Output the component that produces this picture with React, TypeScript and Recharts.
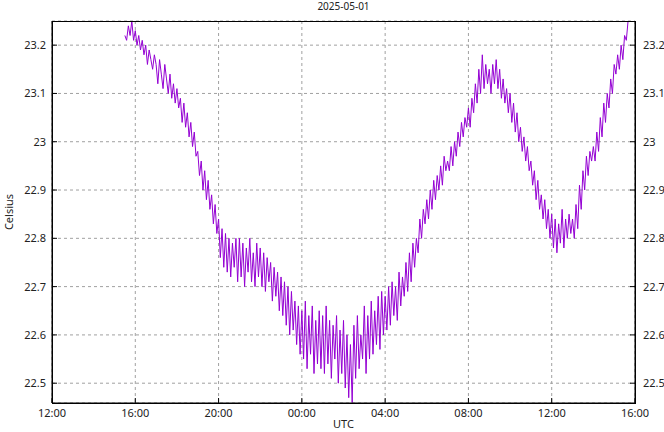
import React from "react";
import { LineChart, Line, XAxis, YAxis, CartesianGrid } from "recharts";

// temperature readings, 5 min apart, starting 15:30 on 2025-05-01 (UTC)
const startHour = 15.5;
const stepMinutes = 5;

const firstAfternoon = [
  23.22, 23.21, 23.24, 23.22, 23.25, 23.21,
  23.23, 23.2, 23.22, 23.19, 23.21, 23.18, 23.2, 23.16, 23.19, 23.17, 23.15, 23.18,
  23.16, 23.12, 23.17, 23.14, 23.11, 23.16, 23.13, 23.1, 23.14, 23.09, 23.12, 23.08,
];
const evening = [
  23.11, 23.07, 23.09, 23.04, 23.08, 23.03, 23.06, 23.01, 23.04, 22.99, 23.02, 22.97,
  22.98, 22.93, 22.96, 22.9, 22.94, 22.88, 22.92, 22.86, 22.89, 22.83, 22.87, 22.81,
  22.84, 22.76, 22.82, 22.74, 22.81, 22.73, 22.8, 22.72, 22.79, 22.74, 22.8, 22.71,
  22.8, 22.72, 22.79, 22.7, 22.78, 22.73, 22.8, 22.71, 22.77, 22.7, 22.79, 22.72,
  22.78, 22.7, 22.77, 22.69, 22.76, 22.71, 22.75, 22.67, 22.74, 22.68, 22.73, 22.65,
  22.72, 22.64, 22.71, 22.62, 22.7, 22.6, 22.69, 22.61, 22.67, 22.58, 22.66, 22.56,
];
const night = [
  22.65, 22.55, 22.67, 22.53, 22.64, 22.56, 22.66, 22.52, 22.63, 22.54, 22.65, 22.53,
  22.64, 22.52, 22.66, 22.54, 22.63, 22.51, 22.62, 22.55, 22.64, 22.5, 22.61, 22.52,
  22.63, 22.49, 22.6, 22.47, 22.58, 22.46, 22.62, 22.51, 22.64, 22.53, 22.6, 22.55,
  22.66, 22.52, 22.64, 22.55, 22.67, 22.56, 22.65, 22.58, 22.68, 22.57, 22.69, 22.6,
  22.68, 22.61, 22.7, 22.62, 22.71, 22.64, 22.7, 22.63, 22.73, 22.66, 22.72, 22.68,
  22.75, 22.69, 22.77, 22.71, 22.79, 22.74, 22.8, 22.77, 22.84, 22.8, 22.86, 22.83,
];
const morning = [
  22.88, 22.84, 22.9, 22.86, 22.92, 22.88, 22.93, 22.9, 22.95, 22.91, 22.97, 22.94,
  22.96, 22.94, 22.99, 22.95, 23.0, 22.97, 23.02, 22.99, 23.04, 23.01, 23.05, 23.03,
  23.07, 23.03, 23.09, 23.06, 23.12, 23.08, 23.15, 23.1, 23.18, 23.11, 23.16, 23.12,
  23.15, 23.1, 23.16, 23.12, 23.17, 23.11, 23.15, 23.09, 23.13, 23.08, 23.11, 23.06,
  23.1, 23.04, 23.08, 23.02, 23.06, 23.0, 23.03, 22.98, 23.01, 22.96, 22.99, 22.94,
  22.96, 22.91, 22.94, 22.88, 22.92, 22.86, 22.89, 22.84, 22.88, 22.82, 22.86, 22.8,
];
const secondAfternoon = [
  22.85, 22.78, 22.84, 22.77, 22.83, 22.79, 22.86, 22.78, 22.84, 22.8, 22.85, 22.81,
  22.84, 22.8, 22.87, 22.82, 22.91, 22.86, 22.94, 22.9, 22.97, 22.93, 22.98, 22.96,
  22.99, 22.96, 23.02, 22.98, 23.05, 23.01, 23.08, 23.04, 23.1, 23.07, 23.13, 23.1,
  23.16, 23.14, 23.18, 23.15, 23.2, 23.17, 23.22, 23.21, 23.25,
];

const temps = [...firstAfternoon, ...evening, ...night, ...morning, ...secondAfternoon];

// hours since 12:00 on the first day
const data = temps.map((t, i) => ({ h: startHour - 12 + (i * stepMinutes) / 60, t }));

const xTicks = [0, 4, 8, 12, 16, 20, 24, 28];
const xLabels = ["12:00", "16:00", "20:00", "00:00", "04:00", "08:00", "12:00", "16:00"];
const yTicks = [22.5, 22.6, 22.7, 22.8, 22.9, 23, 23.1, 23.2];

const font = "'Noto Sans', sans-serif";
const tickStyle = { fontSize: 11, fill: "#222", fontFamily: font };
const textStyle: React.CSSProperties = { position: "absolute", fontSize: 11, fontFamily: font, color: "#222", whiteSpace: "nowrap" };

export default function App() {
  return (
    <div style={{ position: "absolute", left: 0, top: 0, width: 664, height: 432, background: "#fff" }}>
      <LineChart width={664} height={432} data={data} margin={{ top: 21, right: 0, bottom: 0, left: 0 }}>
        <CartesianGrid stroke="#a0a0a0" strokeDasharray="3 3" yAxisId="left" />
        <XAxis
          dataKey="h"
          type="number"
          domain={[0, 28]}
          ticks={xTicks}
          tickFormatter={(v) => xLabels[xTicks.indexOf(v)]}
          height={29}
          stroke="#000"
          tick={tickStyle}
          tickSize={-5}
          tickMargin={11}
          interval={0}
        />
        <YAxis
          yAxisId="left"
          type="number"
          domain={[22.459, 23.25]}
          ticks={yTicks}
          width={52}
          stroke="#000"
          tick={tickStyle}
          tickSize={-5}
          tickMargin={11}
          interval={0}
          allowDataOverflow
        />
        <YAxis
          yAxisId="right"
          orientation="right"
          type="number"
          domain={[22.459, 23.25]}
          ticks={yTicks}
          width={29}
          stroke="#000"
          tick={{ ...tickStyle, textAnchor: "start" }}
          tickSize={-5}
          tickMargin={13}
          interval={0}
          allowDataOverflow
        />
        <Line
          yAxisId="left"
          dataKey="t"
          type="linear"
          stroke="#9400d3"
          strokeWidth={1}
          dot={false}
          isAnimationActive={false}
        />
      </LineChart>
      {/* plot frame */}
      <div style={{ position: "absolute", left: 52, top: 21, width: 582, height: 381, border: "1px solid #000", pointerEvents: "none" }} />
      <div style={{ ...textStyle, top: -1, left: 52, width: 583, textAlign: "center", fontSize: 10 }}>2025-05-01</div>
      <div style={{ ...textStyle, top: 416, left: 52, width: 583, textAlign: "center" }}>UTC</div>
      <div style={{ ...textStyle, left: 8, top: 212, transform: "translate(-50%, -50%) rotate(-90deg)" }}>Celsius</div>
    </div>
  );
}
